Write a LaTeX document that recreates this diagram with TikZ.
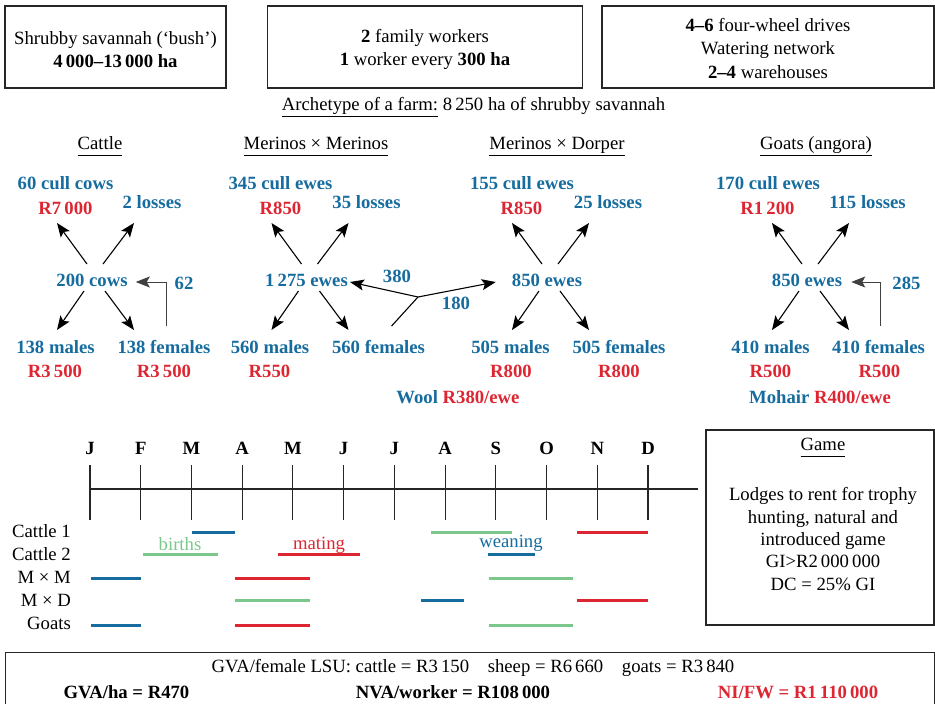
\documentclass[tikz,border=0pt]{standalone}
\usepackage{fontspec}
\setmainfont{Liberation Serif}
\usepackage{tikz}
\usetikzlibrary{positioning, arrows.meta, calc}
\definecolor{cntblue}{RGB}{22,108,158}
\definecolor{prred}{RGB}{222,38,50}
\definecolor{brgreen}{RGB}{124,200,140}
\newcommand{\diafont}{\fontsize{18.7}{23.5}\selectfont}
\newcommand{\ulhead}[1]{\underline{#1\vphantom{(g}}}

\begin{document}
\begin{tikzpicture}[x=1pt, y=-1pt, font=\diafont,
        every node/.style={inner sep=1pt},
        infobox/.style={draw=black!85, line width=1.1pt, inner sep=0pt},
        infotext/.style={align=center},
        cnt/.style={font=\diafont\bfseries, text=cntblue},
        price/.style={font=\diafont\bfseries, text=prred},
        flow/.style={-{Stealth[length=14pt, width=11pt, inset=3pt]}, line width=1.1pt},
        back/.style={-{Stealth[length=14pt, width=11pt, inset=3pt]}, line width=0.9pt, black!75},
        mon/.style={font=\diafont\bfseries},
        tick/.style={line width=1.1pt, black!85},
        period/.style={line width=3pt},
    ]
        \useasboundingbox (0,0) rectangle (935,704);
        \clip (0,0) rectangle (935,704);

        % farm structure
        \node[infobox, minimum width=221, minimum height=82] (land)   at (115.5,47) {};
        \node[infobox, minimum width=315, minimum height=82] (labour) at (425,47)   {};
        \node[infobox, minimum width=332, minimum height=82] (equip)  at (768,47)   {};
        \node[infotext] (landtxt)   at (land.center)   [yshift=-2.5pt] {Shrubby savannah (`bush')\\\textbf{4\,000--13\,000 ha}};
        \node[infotext] (labourtxt) at (labour.center) [yshift=-2.5pt] {\textbf{2} family workers\\\textbf{1} worker every \textbf{300 ha}};
        \node[infotext] (equiptxt)  at (equip.center)  [yshift=-1.5pt] {\textbf{4--6} four-wheel drives\\Watering network\\\textbf{2--4} warehouses};
        \node (arch) at (473.5,107) {\underline{Archetype of a farm:} 8\,250 ha of shrubby savannah};

        \node (hcat) at (100,146) {\ulhead{Cattle}};
        \node (hmm)  at (316,146) {\ulhead{Merinos × Merinos}};
        \node (hmd)  at (557,146) {\ulhead{Merinos × Dorper}};
        \node (hgo)  at (816,146) {\ulhead{Goats (angora)}};

        % herds
        \node[cnt]   (ccull)   at (65.5,183)  {60 cull cows};
        \node[price] (ccullp)  at (65.5,208)  {R7\,000};
        \node[cnt]   (closs)   at (152,202)   {2 losses};
        \node[cnt]   (cherd)   at (92,280)    {200 cows};
        \node[cnt]   (cmale)   at (55.5,347)  {138 males};
        \node[price] (cmalep)  at (55,371)    {R3\,500};
        \node[cnt]   (cfem)    at (164,347)   {138 females};
        \node[price] (cfemp)   at (164,371)   {R3\,500};
        \node[cnt]   (crep)    at (184,283)   {62};

        \node[cnt]   (mmcull)  at (280.5,183) {345 cull ewes};
        \node[price] (mmcullp) at (280.5,208) {R850};
        \node[cnt]   (mmloss)  at (366.5,202) {35 losses};
        \node[cnt]   (mmherd)  at (306.5,280) {1\,275 ewes};
        \node[cnt]   (mmmale)  at (270,347)   {560 males};
        \node[price] (mmmalep) at (269.5,371) {R550};
        \node[cnt]   (mmfem)   at (378.5,347) {560 females};
        \node[cnt]   (mmrep)   at (397,276)   {380};
        \node[cnt]   (mdrep)   at (456,303)   {180};
        \node[cnt]   (wool)    at (458,397)   {Wool \textcolor{prred}{R380/ewe}};

        \node[cnt]   (mdcull)  at (522,183)   {155 cull ewes};
        \node[price] (mdcullp) at (521.5,208) {R850};
        \node[cnt]   (mdloss)  at (608,202)   {25 losses};
        \node[cnt]   (mdherd)  at (547,280)   {850 ewes};
        \node[cnt]   (mdmale)  at (510.5,347) {505 males};
        \node[price] (mdmalep) at (511,371)   {R800};
        \node[cnt]   (mdfem)   at (619,347)   {505 females};
        \node[price] (mdfemp)  at (619,371)   {R800};

        \node[cnt]   (gocull)  at (768,183)   {170 cull ewes};
        \node[price] (gocullp) at (767.5,208) {R1\,200};
        \node[cnt]   (goloss)  at (867.5,202) {115 losses};
        \node[cnt]   (goherd)  at (807,280)   {850 ewes};
        \node[cnt]   (gomale)  at (770.5,347) {410 males};
        \node[price] (gomalep) at (770.5,371) {R500};
        \node[cnt]   (gofem)   at (878.5,347) {410 females};
        \node[price] (gofemp)  at (879.5,371) {R500};
        \node[cnt]   (gorep)   at (906.5,283) {285};
        \node[cnt]   (mohair)  at (820,397)   {Mohair \textcolor{prred}{R400/ewe}};

        \foreach \g in {cherd,mmherd,mdherd,goherd} {
            \draw[flow] ($(\g)+(-5,-16)$) -- ($(\g)+(-35,-57)$);
            \draw[flow] ($(\g)+(11,-16)$) -- ($(\g)+(42,-57)$);
            \draw[flow] ($(\g)+(-8,11)$)  -- ($(\g)+(-35,50)$);
            \draw[flow] ($(\g)+(13,11)$)  -- ($(\g)+(42,50)$);
        }
        \draw[back] ($(cfem.north)+(2,-13)$) |- ($(cherd.east)+(7,2)$);
        \draw[back] ($(gofem.north)+(2,-13)$) |- ($(goherd.east)+(8,2)$);
        \coordinate (split) at (418,297);
        \draw[line width=1.1pt] ($(mmfem.north)+(13,-13)$) -- (split);
        \draw[flow] (split) -- ($(mmherd.east)+(1,2)$);
        \draw[flow] (split) -- ($(mdherd.west)+(-15,2)$);

        % calendar
        \foreach \m [count=\i from 0] in {J,F,M,A,M,J,J,A,S,O,N,D} {
            \node[mon] (mo\i) at (90+50.73*\i,448) {\m};
            \draw[tick] ($(mo\i)+(0,17)$) -- ++(0,55);
        }
        \draw[tick] ($(mo0)+(0,41)$) -- ++(608,0);
        \foreach \r/\yy [count=\k] in {Cattle 1/531, Cattle 2/554, M × M/577, M × D/600, Goats/623}
            \node[anchor=east] (row\k) at (72,\yy) {\r};

        \draw[period, cntblue] (192,532) -- (235,532);
        \draw[period, brgreen] (431,532) -- (512,532);
        \draw[period, prred]   (577,532) -- (648,532);
        \draw[period, brgreen] (143,554) -- (218,554);
        \draw[period, prred]   (278,554) -- (360,554);
        \draw[period, cntblue] (488,554) -- (535,554);
        \draw[period, cntblue] (91,578)  -- (141,578);
        \draw[period, prred]   (235,578) -- (310,578);
        \draw[period, brgreen] (489,578) -- (573,578);
        \draw[period, brgreen] (235,600) -- (310,600);
        \draw[period, cntblue] (421,600) -- (464,600);
        \draw[period, prred]   (577,600) -- (648,600);
        \draw[period, cntblue] (91,625)  -- (141,625);
        \draw[period, prred]   (235,625) -- (310,625);
        \draw[period, brgreen] (489,625) -- (573,625);
        \node[text=brgreen] (births)  at (180,544) {births};
        \node[text=prred]   (mating)  at (319,545) {mating};
        \node[text=cntblue] (weaning) at (511,543) {weaning};

        % game
        \node[infobox, minimum width=228, minimum height=195] (game) at (820,527.5) {};
        \node (gtitle) at (823,447) {\ulhead{Game}};
        \node[align=center, font=\fontsize{18.7}{22.3}\selectfont] (gtext) at (823,539)
            {Lodges to rent for trophy\\hunting, natural and\\introduced game\\GI>R2\,000\,000\\DC = 25\% GI};

        % results
        \node[infobox, minimum width=929, minimum height=70, anchor=north west] (econ) at (5,652) {};
        \node (lsu) at (473,668) {GVA/female LSU: cattle = R3\,150\quad sheep = R6\,660\quad goats = R3\,840};
        \node[font=\diafont\bfseries] (gvaha) at (126.5,692) {GVA/ha = R470};
        \node[font=\diafont\bfseries] (nva)   at (453,692)   {NVA/worker = R108\,000};
        \node[font=\diafont\bfseries, text=prred] (nifw) at (798,692) {NI/FW = R1\,110\,000};
    \end{tikzpicture}
\end{document}
